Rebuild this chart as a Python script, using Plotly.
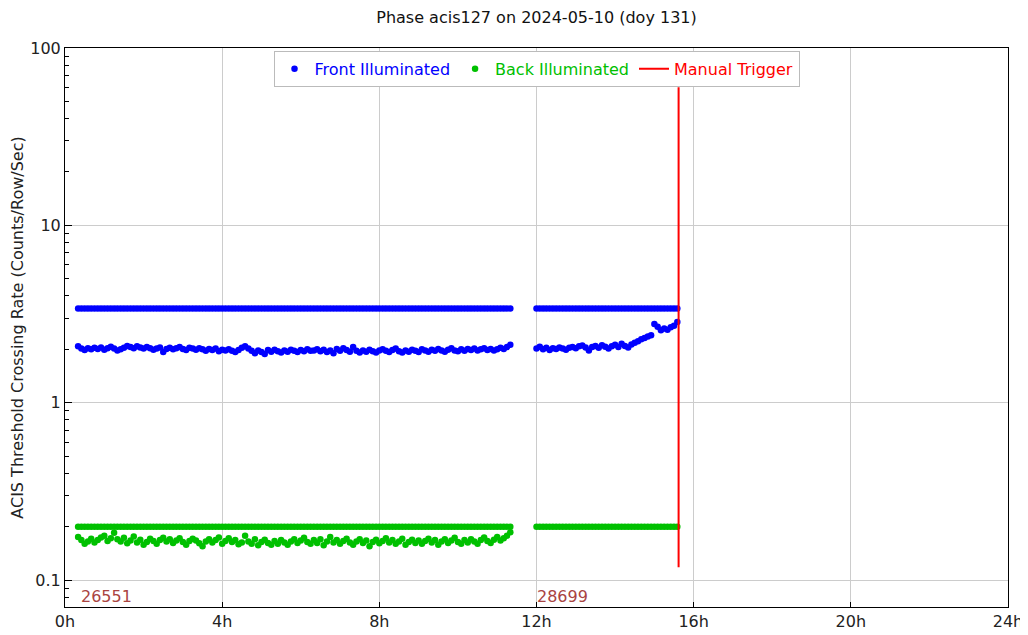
import math
import plotly.graph_objects as go

TITLE = "Phase acis127 on 2024-05-10 (doy 131)"
Y_TITLE = "ACIS Threshold Crossing Rate (Counts/Row/Sec)"

# sample times (minutes after midnight)
T1 = [20, 25, 30, 35, 40, 45, 50, 55, 60, 65, 70, 75,
      80, 85, 90, 95, 100, 105, 110, 115, 120, 125, 130, 135,
      140, 145, 150, 155, 160, 165, 170, 175, 180, 185, 190, 195,
      200, 205, 210, 215, 220, 225, 230, 235, 240, 245, 250, 255,
      260, 265, 270, 275, 280, 285, 290, 295, 300, 305, 310, 315,
      320, 325, 330, 335, 340, 345, 350, 355, 360, 365, 370, 375,
      380, 385, 390, 395, 400, 405, 410, 415, 420, 425, 430, 435,
      440, 445, 450, 455, 460, 465, 470, 475, 480, 485, 490, 495,
      500, 505, 510, 515, 520, 525, 530, 535, 540, 545, 550, 555,
      560, 565, 570, 575, 580, 585, 590, 595, 600, 605, 610, 615,
      620, 625, 630, 635, 640, 645, 650, 655, 660, 665, 670, 675,
      680]
T2 = [720, 725, 730, 735, 740, 745, 750, 755, 760, 765, 770, 775,
      780, 785, 790, 795, 800, 805, 810, 815, 820, 825, 830, 835,
      840, 845, 850, 855, 860, 865, 870, 875, 880, 885, 890, 895,
      900, 905, 910, 915, 920, 925, 930, 935]

FI_LEVEL = 3.4   # flat front-illuminated threshold
BI_LEVEL = 0.2   # flat back-illuminated threshold

FI1 = [2.08, 2.02, 1.98, 2.03, 2.00, 2.04, 2.01, 2.05, 1.99, 2.03, 2.07, 2.02,
       1.97, 2.00, 2.04, 2.09, 2.06, 2.03, 2.08, 2.05, 2.02, 2.06, 2.03, 1.99,
       2.02, 2.05, 1.93, 2.01, 2.04, 2.00, 2.03, 2.06, 2.01, 1.98, 2.04, 2.02,
       1.99, 2.03, 2.00, 1.96, 2.01, 1.98, 2.02, 1.95, 1.99, 1.97, 2.00, 1.96,
       1.93, 1.98, 2.04, 2.08, 2.02, 1.96, 1.90, 1.97, 1.93, 1.88, 1.98, 1.94,
       1.99, 1.95, 1.92, 1.97, 1.94, 1.99, 1.96, 1.93, 1.98, 1.95, 2.00, 1.96,
       1.97, 2.00, 1.95, 1.99, 1.93, 1.97, 1.90, 2.01, 1.96, 2.03, 1.98, 1.94,
       2.06, 1.96, 1.92, 1.97, 1.94, 1.99, 1.95, 1.92, 1.97, 2.00, 1.96, 1.93,
       1.98, 2.02, 1.95, 1.92, 1.97, 1.94, 1.99, 1.96, 1.93, 2.00, 1.97, 1.94,
       1.99, 1.96, 2.01, 1.97, 1.94, 1.99, 2.03, 1.97, 1.95, 2.00, 1.96, 2.01,
       1.98, 2.02, 1.97, 2.00, 2.03, 1.98, 2.01, 1.97, 2.00, 2.04, 2.01, 2.06,
       2.12]
FI2 = [2.02, 2.07, 2.00, 2.04, 1.98, 2.03, 2.01, 2.05, 2.02, 1.99, 2.04, 2.06,
       2.03, 2.08, 2.10, 2.05, 1.97, 2.06, 2.09, 2.04, 2.11, 2.07, 2.02, 2.08,
       2.12, 2.06, 2.15, 2.09, 2.05, 2.13, 2.18, 2.22, 2.28, 2.32, 2.36, 2.40,
       2.78, 2.68, 2.56, 2.62, 2.58, 2.66, 2.72, 2.85]
BI1 = [0.175, 0.168, 0.160, 0.165, 0.171, 0.163, 0.168, 0.174, 0.178, 0.166, 0.172, 0.185,
       0.170, 0.165, 0.173, 0.161, 0.167, 0.176, 0.163, 0.169, 0.158, 0.164, 0.171, 0.166,
       0.160, 0.168, 0.173, 0.165, 0.170, 0.162, 0.167, 0.172, 0.164, 0.158, 0.166, 0.171,
       0.167, 0.161, 0.155, 0.165, 0.170, 0.163, 0.168, 0.174, 0.160, 0.166, 0.172, 0.164,
       0.168, 0.159, 0.163, 0.178, 0.165, 0.160, 0.170, 0.157, 0.164, 0.169, 0.162, 0.158,
       0.166, 0.160, 0.168, 0.163, 0.158, 0.165, 0.170, 0.162, 0.167, 0.173, 0.164, 0.160,
       0.168, 0.162, 0.170, 0.157, 0.165, 0.175, 0.163, 0.168, 0.160, 0.166, 0.171, 0.163,
       0.158, 0.165, 0.170, 0.162, 0.167, 0.155, 0.164, 0.169, 0.161, 0.166, 0.172, 0.163,
       0.168, 0.160, 0.165, 0.171, 0.158, 0.164, 0.169, 0.162, 0.167, 0.160, 0.166, 0.171,
       0.163, 0.168, 0.158, 0.165, 0.170, 0.162, 0.167, 0.173, 0.164, 0.160, 0.168, 0.163,
       0.170, 0.165, 0.160, 0.168, 0.174, 0.166, 0.162, 0.169, 0.175, 0.167, 0.172, 0.178,
       0.186]

TRIGGER_T = [937, 937]
TRIGGER_Y = [0.118, 60]

OBSIDS = ["26551", "28699"]
OBS_T = [22, 718]
OBS_Y = 0.081

X_TICKS = [0, 240, 480, 720, 960, 1200, 1440]
X_LABELS = ["0h", "4h", "8h", "12h", "16h", "20h", "24h"]
Y_TICKS = [0.1, 1, 10, 100]
Y_LABELS = ["0.1", "1", "10", "100"]
Y_MINOR = [0.08, 0.09,
           0.2, 0.3, 0.4, 0.5, 0.6, 0.7, 0.8, 0.9,
           2, 3, 4, 5, 6, 7, 8, 9,
           20, 30, 40, 50, 60, 70, 80, 90]

BLUE = "#0000ff"
GREEN = "#00c000"
RED = "#ff0000"
FONT = "DejaVu Sans"
FS = 16

fig = go.Figure()

def pts(x, y, color, name=None, show=False):
    fig.add_trace(go.Scatter(
        x=x, y=y, mode="markers",
        marker=dict(color=color, size=6.5, line=dict(width=0)),
        name=name if name else "", showlegend=show, hoverinfo="skip"))

# flat threshold levels
pts(T1, [FI_LEVEL] * len(T1), BLUE)
pts(T2, [FI_LEVEL] * len(T2), BLUE)
pts(T1, [BI_LEVEL] * len(T1), GREEN)
pts(T2, [BI_LEVEL] * len(T2), GREEN)
# measured rates
pts(T1, FI1, BLUE, "<span style='color:#0000ff'>Front Illuminated</span>", True)
pts(T2, FI2, BLUE)
pts(T1, BI1, GREEN, "<span style='color:#00c000'>Back Illuminated</span>", True)

fig.add_trace(go.Scatter(
    x=TRIGGER_T, y=TRIGGER_Y, mode="lines",
    line=dict(color=RED, width=2),
    name="<span style='color:#ff0000'>Manual Trigger</span>", hoverinfo="skip"))

for label, t in zip(OBSIDS, OBS_T):
    fig.add_annotation(x=t, y=math.log10(OBS_Y), yref="y", xref="x", text=label,
                       showarrow=False, xanchor="left", yanchor="middle",
                       font=dict(family=FONT, size=FS, color="#a94442"))

# page has an 8px body margin, so the figure is 8px smaller than the window
fig.update_layout(
    width=1020, height=627,
    margin=dict(l=57, r=20, t=40, b=28, autoexpand=False),
    paper_bgcolor="white", plot_bgcolor="white",
    font=dict(family=FONT, size=FS, color="#222"),
    title=dict(text=TITLE, x=0.5, xref="paper", xanchor="center",
               y=0.985, yref="container", yanchor="middle",
               font=dict(family=FONT, size=FS, color="#111")),
    legend=dict(orientation="h", x=0.5, xanchor="center", y=0.995, yanchor="top",
                bgcolor="white", bordercolor="#bbbbbb", borderwidth=1,
                font=dict(family=FONT, size=FS), itemwidth=30),
    showlegend=True,
)

fig.update_xaxes(
    range=[0, 1440], tickvals=X_TICKS, ticktext=X_LABELS,
    showgrid=True, gridcolor="#cccccc", gridwidth=1,
    showline=True, linecolor="black", linewidth=1, mirror=True,
    ticks="inside", ticklen=5, tickcolor="black", automargin=False,
    zeroline=False, tickfont=dict(family=FONT, size=FS, color="#222"),
)
fig.update_yaxes(
    type="log", range=[-1.152, 2], tickvals=Y_TICKS, ticktext=Y_LABELS,
    showgrid=True, gridcolor="#cccccc", gridwidth=1,
    showline=True, linecolor="black", linewidth=1, mirror=True,
    ticks="inside", ticklen=7, tickcolor="black", automargin=False,
    minor=dict(tickvals=Y_MINOR, ticks="inside", ticklen=4, tickcolor="black", showgrid=False),
    zeroline=False, tickfont=dict(family=FONT, size=FS, color="#222"),
    title=dict(text=Y_TITLE, font=dict(family=FONT, size=FS, color="#222"), standoff=10),
)

fig.write_html("out.html")
